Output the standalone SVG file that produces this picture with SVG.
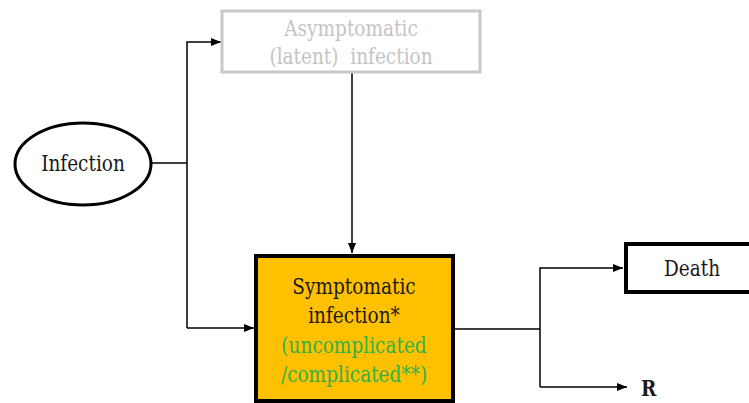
<svg xmlns="http://www.w3.org/2000/svg" width="749" height="403" viewBox="0 0 749 403">
  <defs>
    <marker id="arrow" markerWidth="10" markerHeight="8" refX="10" refY="4" orient="auto" markerUnits="userSpaceOnUse">
      <path d="M0,0 L10,4 L0,8 Z" fill="#000"/>
    </marker>
    <style>
      text { font-family: 'DejaVu Serif', 'Liberation Serif', serif; font-size: 18.5px; text-anchor: middle; fill: #1a1a1a; }
      .grey { fill: #c4c4c4; }
      .green { fill: #2fb24a; }
      .link { fill: none; stroke: #000; stroke-width: 1.5; }
    </style>
  </defs>
  <rect width="749" height="403" fill="#fff"/>

  <g id="connectors">
    <path class="link" d="M152,163 H187"/>
    <path class="link" d="M187,328 V42 H221" marker-end="url(#arrow)"/>
    <path class="link" d="M187,328 H254" marker-end="url(#arrow)"/>
    <path class="link" d="M352,73 V253" marker-end="url(#arrow)"/>
    <path class="link" d="M455,329 H540"/>
    <path class="link" d="M540,387 V268 H623" marker-end="url(#arrow)"/>
    <path class="link" d="M540,387 H627" marker-end="url(#arrow)"/>
  </g>

  <g id="infection">
    <ellipse cx="83" cy="164" rx="68" ry="41" fill="#fff" stroke="#000" stroke-width="3"/>
    <text transform="translate(83,171) scale(1,1.2)">Infection</text>
  </g>

  <g id="asymptomatic">
    <rect x="222" y="11" width="258" height="61" fill="#fff" stroke="#c8c8c8" stroke-width="3"/>
    <text class="grey" transform="translate(351,36) scale(1,1.2)">Asymptomatic</text>
    <text class="grey" transform="translate(351,64) scale(1,1.2)" xml:space="preserve">(latent)  infection</text>
  </g>

  <g id="symptomatic">
    <rect x="256" y="256" width="197" height="145" fill="#ffc000" stroke="#000" stroke-width="4"/>
    <text transform="translate(354,294) scale(1,1.2)">Symptomatic</text>
    <text transform="translate(354,323) scale(1,1.2)">infection*</text>
    <text class="green" transform="translate(354,353) scale(1,1.2)">(uncomplicated</text>
    <text class="green" transform="translate(354,382) scale(1,1.2)">/complicated**)</text>
  </g>

  <g id="death">
    <rect x="626" y="244" width="130" height="48" fill="#fff" stroke="#000" stroke-width="4"/>
    <text transform="translate(692,276) scale(1,1.2)">Death</text>
  </g>

  <g id="recovered">
    <text transform="translate(641,396) scale(1,1.2)" style="text-anchor:start;font-weight:bold">R</text>
  </g>
</svg>
